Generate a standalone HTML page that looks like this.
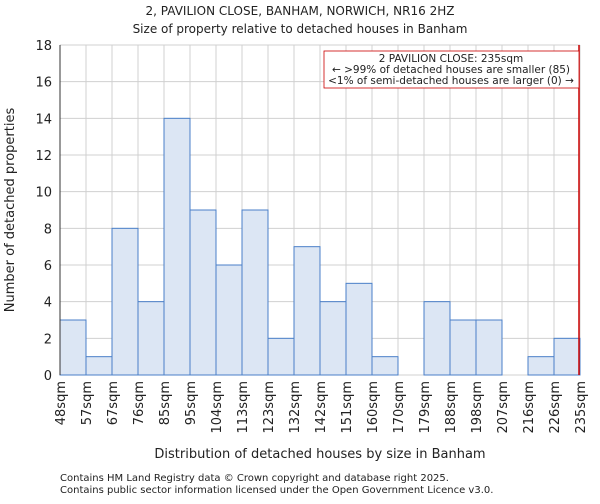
<!DOCTYPE html>
<html><head><meta charset="utf-8"><style>
body{margin:0;background:#fff;font-family:"DejaVu Sans","Liberation Sans",sans-serif;}
svg text{font-family:"DejaVu Sans","Liberation Sans",sans-serif;fill:#222;}
</style></head><body>
<svg id="chart" width="600" height="500">
<text x="300" y="15" text-anchor="middle" font-size="12">2, PAVILION CLOSE, BANHAM, NORWICH, NR16 2HZ</text>
<text x="300" y="33" text-anchor="middle" font-size="12">Size of property relative to detached houses in Banham</text>
<g id="grid"></g><g id="bars"></g><g id="axes"></g>
<text transform="translate(14,210) rotate(-90)" text-anchor="middle" font-size="13">Number of detached properties</text>
<text x="320" y="458" text-anchor="middle" font-size="13">Distribution of detached houses by size in Banham</text>
<text x="60" y="481" font-size="10">Contains HM Land Registry data © Crown copyright and database right 2025.</text>
<text x="60" y="493" font-size="10">Contains public sector information licensed under the Open Government Licence v3.0.</text>
<line x1="579" y1="45" x2="579" y2="375" stroke="#cc0000" stroke-width="1.5"/>
<g>
<rect x="324" y="51" width="255" height="37" fill="#fff" stroke="#cc0000" stroke-width="0.8"/>
<text x="451" y="62" text-anchor="middle" font-size="10.5">2 PAVILION CLOSE: 235sqm</text>
<text x="451" y="73" text-anchor="middle" font-size="10.5">← &gt;99% of detached houses are smaller (85)</text>
<text x="451" y="84" text-anchor="middle" font-size="10.5">&lt;1% of semi-detached houses are larger (0) →</text>
</g>
</svg>
<script>
const tickLabels=["48sqm","57sqm","67sqm","76sqm","85sqm","95sqm","104sqm","113sqm","123sqm","132sqm","142sqm","151sqm","160sqm","170sqm","179sqm","188sqm","198sqm","207sqm","216sqm","226sqm","235sqm"];
const counts=[3,1,8,4,14,9,6,9,2,7,4,5,1,0,4,3,3,0,1,2];
const yTicks=[0,2,4,6,8,10,12,14,16,18];
const NS="http://www.w3.org/2000/svg";
const L=60,R=580,T=45,B=375,yMax=18;
const bw=(R-L)/counts.length;
const xs=i=>L+i*bw;
const ys=v=>B-v/yMax*(B-T);
function mk(tag,attrs,parent){const e=document.createElementNS(NS,tag);for(const k in attrs)e.setAttribute(k,attrs[k]);document.getElementById(parent).appendChild(e);return e;}
yTicks.forEach(v=>{
  const g=mk('line',{x1:L,x2:R,y1:ys(v),y2:ys(v),stroke:'#d0d0d0'},'grid');
  
  
  const t=mk('text',{x:L-8,y:ys(v)+5,'text-anchor':'end','font-size':'13'},'axes');
  t.textContent=v;
  
  
});
tickLabels.forEach((s,i)=>{
  const x=xs(i);
  const g=mk('line',{x1:x,x2:x,y1:T,y2:B,stroke:'#d0d0d0'},'grid');
  
  
  const t=mk('text',{transform:`translate(${x+5},${B+6}) rotate(-90)`,'text-anchor':'end','font-size':'13'},'axes');
  t.textContent=s;
  
  
});
counts.forEach((c,i)=>{
  if(c<=0)return;
  const r=mk('rect',{x:xs(i),y:ys(c),width:bw,height:B-ys(c),fill:'#dce6f4',stroke:'#4a7fc8','stroke-width':1},'bars');
  
  
});
const ax=mk('path',{d:`M${L},${T}V${B}`,stroke:'#333',fill:'none'},'axes');


</script>
</body></html>
